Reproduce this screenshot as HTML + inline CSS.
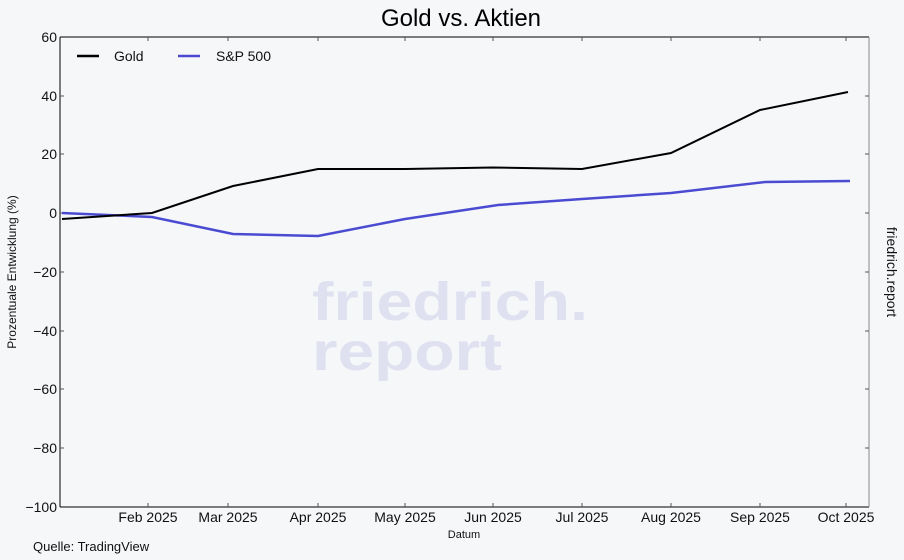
<!DOCTYPE html>
<html><head><style>
body{margin:0;background:#f6f7f9;}
svg{display:block;font-family:"Liberation Sans",sans-serif;}
</style></head><body>
<svg width="904" height="560" xmlns="http://www.w3.org/2000/svg">
<rect width="904" height="560" fill="#f6f7f9"/>
<text x="312" y="320" font-size="54" font-weight="bold" fill="#dfe1f1" textLength="276" lengthAdjust="spacingAndGlyphs">friedrich.</text>
<text x="312" y="370" font-size="54" font-weight="bold" fill="#dfe1f1" textLength="190" lengthAdjust="spacingAndGlyphs">report</text>
<text x="461" y="26" font-size="24" text-anchor="middle" fill="#000">Gold vs. Aktien</text>
<line x1="60" y1="37" x2="869" y2="37" stroke="#000" stroke-width="1"/>
<line x1="60" y1="37" x2="60" y2="507" stroke="#000" stroke-width="1"/>
<line x1="60" y1="507" x2="869" y2="507" stroke="#000" stroke-width="1"/>
<line x1="869" y1="37" x2="869" y2="507" stroke="#888" stroke-width="1"/>
<g stroke="#555" stroke-width="1">
<line x1="148" y1="37" x2="148" y2="41"/><line x1="228" y1="37" x2="228" y2="41"/><line x1="318" y1="37" x2="318" y2="41"/><line x1="405" y1="37" x2="405" y2="41"/><line x1="493" y1="37" x2="493" y2="41"/><line x1="582" y1="37" x2="582" y2="41"/><line x1="671" y1="37" x2="671" y2="41"/><line x1="760" y1="37" x2="760" y2="41"/><line x1="846" y1="37" x2="846" y2="41"/>
<line x1="148" y1="503" x2="148" y2="507"/><line x1="228" y1="503" x2="228" y2="507"/><line x1="318" y1="503" x2="318" y2="507"/><line x1="405" y1="503" x2="405" y2="507"/><line x1="493" y1="503" x2="493" y2="507"/><line x1="582" y1="503" x2="582" y2="507"/><line x1="671" y1="503" x2="671" y2="507"/><line x1="760" y1="503" x2="760" y2="507"/><line x1="846" y1="503" x2="846" y2="507"/>
<line x1="865" y1="96" x2="869" y2="96"/><line x1="865" y1="154" x2="869" y2="154"/><line x1="865" y1="213" x2="869" y2="213"/><line x1="865" y1="272" x2="869" y2="272"/><line x1="865" y1="331" x2="869" y2="331"/><line x1="865" y1="389" x2="869" y2="389"/><line x1="865" y1="448" x2="869" y2="448"/>
<line x1="60" y1="96" x2="64" y2="96"/><line x1="60" y1="154" x2="64" y2="154"/><line x1="60" y1="213" x2="64" y2="213"/><line x1="60" y1="272" x2="64" y2="272"/><line x1="60" y1="331" x2="64" y2="331"/><line x1="60" y1="389" x2="64" y2="389"/><line x1="60" y1="448" x2="64" y2="448"/>
</g>
<g font-size="14" fill="#111" text-anchor="end">
<text x="57" y="42">60</text><text x="57" y="101">40</text><text x="57" y="159">20</text><text x="57" y="218">0</text><text x="57" y="277">−20</text><text x="57" y="336">−40</text><text x="57" y="394">−60</text><text x="57" y="453">−80</text><text x="57" y="512">−100</text>
</g>
<g font-size="14" fill="#111" text-anchor="middle">
<text x="148" y="522">Feb 2025</text><text x="228" y="522">Mar 2025</text><text x="318" y="522">Apr 2025</text><text x="405" y="522">May 2025</text><text x="493" y="522">Jun 2025</text><text x="582" y="522">Jul 2025</text><text x="671" y="522">Aug 2025</text><text x="760" y="522">Sep 2025</text><text x="846" y="522">Oct 2025</text>
</g>
<text x="464" y="538" font-size="11" text-anchor="middle" fill="#111">Datum</text>
<text x="33" y="551" font-size="13" fill="#111">Quelle: TradingView</text>
<text transform="translate(16,272) rotate(-90)" font-size="12" text-anchor="middle" fill="#111">Prozentuale Entwicklung (%)</text>
<text transform="translate(887,272) rotate(90)" font-size="14" text-anchor="middle" fill="#111">friedrich.report</text>
<polyline fill="none" stroke="#4b4bd2" stroke-width="2.5" points="62,213 152,217 233,234 318,236 405,219 498,205 582,199 671,193 765,182 850,181"/>
<polyline fill="none" stroke="#000" stroke-width="2" points="62,219 152,213 233,186 318,169 405,169 493,167.5 582,169 671,153 760,110 848,92"/>
<line x1="77" y1="56" x2="99" y2="56" stroke="#000" stroke-width="2.5"/>
<text x="114" y="61" font-size="14" fill="#111">Gold</text>
<line x1="178" y1="56" x2="200" y2="56" stroke="#4b4bd2" stroke-width="2.5"/>
<text x="216" y="61" font-size="14" fill="#111">S&amp;P 500</text>
</svg>
</body></html>
